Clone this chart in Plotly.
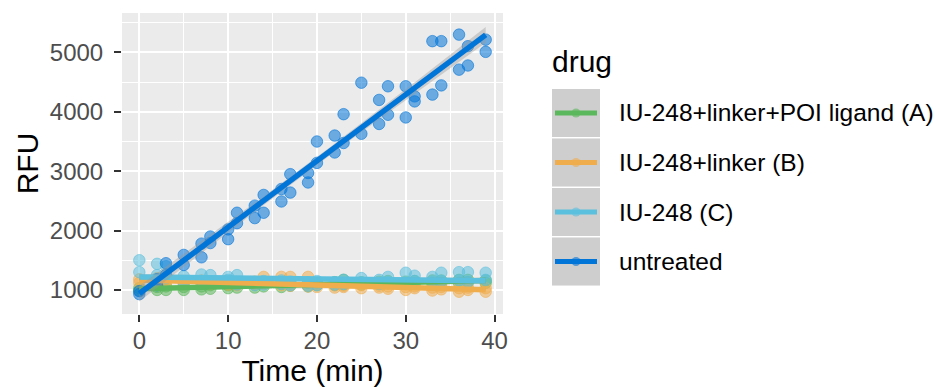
import numpy as np
import plotly.graph_objects as go

# ---------------- data ----------------
times = [0, 2, 3, 5, 7, 8, 10, 11, 13, 14, 16, 17, 19, 20, 22, 23, 25, 27, 28, 30, 31, 33, 34, 36, 37, 39]

drug_names = ["IU-248+linker+POI ligand (A)", "IU-248+linker (B)", "IU-248 (C)", "untreated"]
drug_colors = ["#5cb85c", "#f0ad4e", "#5bc0de", "#0275d8"]

# two replicate readings per time point
rfu_A_rep1 = [990, 1000, 1000, 1000, 1010, 1020, 1030, 1040, 1040, 1060, 1050, 1070, 1060, 1080, 1080, 1090, 1090, 1100, 1110, 1100, 1110, 1110, 1120, 1120, 1130, 1120]
rfu_A_rep2 = [1030, 1050, 1060, 1050, 1060, 1080, 1080, 1090, 1090, 1110, 1100, 1110, 1120, 1120, 1130, 1170, 1130, 1140, 1150, 1140, 1150, 1160, 1160, 1170, 1170, 1160]

rfu_B_rep1 = [1180, 1200, 1170, 1150, 1160, 1140, 1130, 1120, 1140, 1220, 1220, 1220, 1220, 1090, 1080, 1070, 1080, 1070, 1060, 1050, 1060, 1040, 1050, 1030, 1040, 1030]
rfu_B_rep2 = [1120, 1140, 1120, 1100, 1120, 1100, 1090, 1080, 1090, 1100, 1080, 1070, 1060, 1050, 1040, 1050, 1030, 1040, 1020, 1000, 1030, 990, 1010, 970, 1000, 970]

rfu_C_rep1 = [1500, 1440, 1400, 1230, 1260, 1250, 1220, 1250, 1130, 1150, 1160, 1140, 1130, 1150, 1130, 1170, 1200, 1170, 1220, 1290, 1240, 1220, 1290, 1300, 1300, 1290]
rfu_C_rep2 = [1300, 1250, 1200, 1130, 1150, 1120, 1170, 1090, 1080, 1090, 1100, 1080, 1070, 1080, 1090, 1100, 1120, 1100, 1130, 1120, 1150, 1140, 1150, 1160, 1140, 1170]

rfu_U_rep1 = [930, 1080, 1450, 1590, 1780, 1900, 2020, 2300, 2420, 2600, 2700, 2950, 2970, 3500, 3600, 3960, 4490, 4200, 4430, 4430, 4260, 5190, 5190, 5300, 5105, 5215]
rfu_U_rep2 = [980, 1180, 1250, 1420, 1550, 1790, 1855, 2125, 2210, 2300, 2490, 2640, 2810, 3140, 3315, 3475, 3630, 3795, 3950, 3905, 4175, 4290, 4445, 4710, 4780, 5010]

x_ticks = [0, 10, 20, 30, 40]
y_ticks = [1000, 2000, 3000, 4000, 5000]

series = [
    (rfu_A_rep1, rfu_A_rep2),
    (rfu_B_rep1, rfu_B_rep2),
    (rfu_C_rep1, rfu_C_rep2),
    (rfu_U_rep1, rfu_U_rep2),
]

# ---------------- layout geometry ----------------
# the page body has an 8px default margin, so the figure is offset by (8, 8)
OFF = 8
W, H = 942 - OFF, 387 - OFF
ML, MR, MT, MB = 122 - OFF, 439, 13 - OFF, 73
PW, PH = W - ML - MR, H - MT - MB

FONT = "Liberation Sans, Arial, sans-serif"


def rgba(hexc, a):
    h = hexc.lstrip("#")
    r, g, b = int(h[0:2], 16), int(h[2:4], 16), int(h[4:6], 16)
    return f"rgba({r},{g},{b},{a})"


fig = go.Figure()

# points (all groups first, like geom_point)
for name, col, (r1, r2) in zip(drug_names, drug_colors, series):
    xs = times + times
    ys = r1 + r2
    fig.add_trace(go.Scatter(
        x=xs, y=ys, mode="markers", name=name, showlegend=False,
        marker=dict(size=11.5, color=rgba(col, 0.55),
                    line=dict(color=rgba(col, 0.6), width=1)),
        hoverinfo="skip"))

# linear fits with 95% confidence ribbon (geom_smooth(method="lm"))
for name, col, (r1, r2) in zip(drug_names, drug_colors, series):
    xs = np.array(times + times, dtype=float)
    ys = np.array(r1 + r2, dtype=float)
    b1, b0 = np.polyfit(xs, ys, 1)
    n = len(xs)
    resid = ys - (b0 + b1 * xs)
    s = np.sqrt(np.sum(resid ** 2) / (n - 2))
    xbar = xs.mean()
    sxx = np.sum((xs - xbar) ** 2)
    gx = np.linspace(xs.min(), xs.max(), 80)
    gy = b0 + b1 * gx
    se = s * np.sqrt(1.0 / n + (gx - xbar) ** 2 / sxx)
    tq = 2.009
    up, lo = gy + tq * se, gy - tq * se
    fig.add_trace(go.Scatter(
        x=np.concatenate([gx, gx[::-1]]), y=np.concatenate([up, lo[::-1]]),
        fill="toself", fillcolor="rgba(153,153,153,0.4)", line=dict(width=0),
        mode="lines", showlegend=False, hoverinfo="skip"))
    fig.add_trace(go.Scatter(
        x=gx, y=gy, mode="lines", line=dict(color=col, width=5.5),
        showlegend=False, hoverinfo="skip"))

# ---------------- manual legend (ggplot style) ----------------
# positions given in page pixels, converted to paper coordinates
def px_to_paper_x(px):
    return (px - OFF - ML) / PW


def px_to_paper_y(py):
    return (H - MB - (py - OFF)) / PH


shapes = []
annotations = []

annotations.append(dict(
    text="drug", x=px_to_paper_x(550), y=px_to_paper_y(62), xref="paper", yref="paper",
    xanchor="left", yanchor="middle", showarrow=False,
    font=dict(family=FONT, size=30, color="black")))

key_left, key_size, key_top0, key_step = 552, 48, 89, 49.5
for i, (name, col) in enumerate(zip(drug_names, drug_colors)):
    top = key_top0 + i * key_step
    cy = top + key_size / 2
    shapes.append(dict(type="rect", xref="paper", yref="paper",
                       x0=px_to_paper_x(key_left), x1=px_to_paper_x(key_left + key_size),
                       y0=px_to_paper_y(top + key_size), y1=px_to_paper_y(top),
                       fillcolor="#f2f2f2", line=dict(width=0), layer="above"))
    shapes.append(dict(type="rect", xref="paper", yref="paper",
                       x0=px_to_paper_x(key_left), x1=px_to_paper_x(key_left + key_size),
                       y0=px_to_paper_y(top + key_size), y1=px_to_paper_y(top),
                       fillcolor="rgba(153,153,153,0.4)", line=dict(width=0), layer="above"))
    shapes.append(dict(type="line", xref="paper", yref="paper",
                       x0=px_to_paper_x(key_left + 3), x1=px_to_paper_x(key_left + key_size - 3),
                       y0=px_to_paper_y(cy), y1=px_to_paper_y(cy),
                       line=dict(color=col, width=5), layer="above"))
    shapes.append(dict(type="circle", xref="paper", yref="paper",
                       x0=px_to_paper_x(key_left + key_size / 2 - 4.5),
                       x1=px_to_paper_x(key_left + key_size / 2 + 4.5),
                       y0=px_to_paper_y(cy + 4.5), y1=px_to_paper_y(cy - 4.5),
                       fillcolor=rgba(col, 0.6), line=dict(width=0), layer="above"))
    annotations.append(dict(
        text=name, x=px_to_paper_x(617), y=px_to_paper_y(cy), xref="paper", yref="paper",
        xanchor="left", yanchor="middle", showarrow=False,
        font=dict(family=FONT, size=24.5, color="black")))

fig.update_layout(
    width=W, height=H, autosize=False,
    margin=dict(l=ML, r=MR, t=MT, b=MB, pad=0),
    paper_bgcolor="white", plot_bgcolor="#ebebeb",
    showlegend=False,
    font=dict(family=FONT, size=24, color="#4d4d4d"),
    shapes=shapes, annotations=annotations,
)

fig.update_xaxes(
    automargin=False,
    range=[-1.95, 40.95], tickvals=x_ticks, ticktext=[str(v) for v in x_ticks],
    showgrid=True, gridcolor="white", gridwidth=2, zeroline=False, showline=False,
    ticks="outside", ticklen=7, tickwidth=1.5, tickcolor="#333333",
    ticklabelstandoff=-2,
    tickfont=dict(family=FONT, size=24, color="#4d4d4d"),
    minor=dict(tickvals=[5, 15, 25, 35], showgrid=True, gridcolor="white", gridwidth=1, ticks=""),
    title=dict(text="Time (min)", font=dict(family=FONT, size=30, color="black"), standoff=0),
)
fig.update_yaxes(
    automargin=False,
    range=[595, 5664], tickvals=y_ticks, ticktext=[str(v) for v in y_ticks],
    showgrid=True, gridcolor="white", gridwidth=2, zeroline=False, showline=False,
    ticks="outside", ticklen=7, tickwidth=1.5, tickcolor="#333333",
    ticklabelstandoff=6,
    tickfont=dict(family=FONT, size=24, color="#4d4d4d"),
    minor=dict(tickvals=[1500, 2500, 3500, 4500, 5500], showgrid=True, gridcolor="white", gridwidth=1, ticks=""),
    title=dict(text="RFU", font=dict(family=FONT, size=30, color="black"), standoff=2),
)

fig.write_html("out.html")
